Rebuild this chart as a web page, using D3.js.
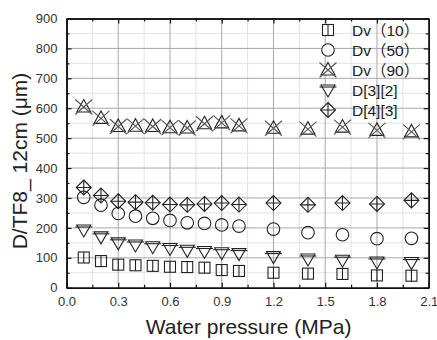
<!DOCTYPE html>
<html lang="en">
<head>
<meta charset="utf-8">
<title>water pressure</title>
<script src="https://cdn.jsdelivr.net/npm/d3@7"></script>
<style>
body { margin: 0; background: #fff; font-family: Arial, "Liberation Sans", "Noto Sans CJK SC", sans-serif; }
.tick-label { font-size: 13px; fill: #333; }
.axis-title { font-size: 21px; fill: #222; }
.legend-text { font-size: 15.5px; fill: #222; }
</style>
</head>
<body>
<div id="chart"></div>
<script>

// data
var pressure = [0.1, 0.2, 0.3, 0.4, 0.5, 0.6, 0.7, 0.8, 0.9, 1.0, 1.2, 1.4, 1.6, 1.8, 2.0];
var dv10 = [101, 89, 77, 75, 73, 70, 69, 67, 59, 56, 50, 47, 46, 41, 40];
var dv50 = [302, 276, 248, 239, 232, 225, 217, 215, 210, 206, 196, 184, 177, 164, 165];
var dv90 = [604, 566, 539, 540, 539, 535, 534, 548, 551, 541, 533, 530, 537, 526, 521];
var d32 = [193, 170, 150, 143, 137, 131, 125, 121, 117, 114, 104, 96, 92, 86, 84];
var d43 = [335, 308, 289, 286, 284, 278, 277, 280, 283, 278, 283, 277, 283, 280, 292];
var seriesNames = ["Dv\uff0810\uff09", "Dv\uff0850\uff09", "Dv\uff0890\uff09", "D[3][2]", "D[4][3]"];
var xTicks = [0.0, 0.3, 0.6, 0.9, 1.2, 1.5, 1.8, 2.1];
var yTicks = [0, 100, 200, 300, 400, 500, 600, 700, 800, 900];

var W = 437, H = 340;
var margin = {top: 18.5, right: 8.3, bottom: 52.3, left: 66.5},
    width = W - margin.left - margin.right,
    height = H - margin.top - margin.bottom;

var svg = d3.select("#chart").append("svg")
    .attr("width", W)
    .attr("height", H);

var g = svg.append("g")
    .attr("transform", "translate(" + margin.left + "," + margin.top + ")");

// scales
var x = d3.scaleLinear().domain([0, 2.1]).range([0, width]);
var y = d3.scaleLinear().domain([0, 900]).range([height, 0]);

var xMinor = d3.range(0.15, 2.1, 0.3);
var yMinor = d3.range(50, 900, 100);

// grid lines
g.selectAll(".gx-minor").data(xMinor).enter().append("line")
    .attr("x1", function(d) { return x(d); }).attr("x2", function(d) { return x(d); })
    .attr("y1", 0).attr("y2", height)
    .attr("stroke", "#e2e2e2").attr("stroke-width", 1);
g.selectAll(".gy-minor").data(yMinor).enter().append("line")
    .attr("y1", function(d) { return y(d); }).attr("y2", function(d) { return y(d); })
    .attr("x1", 0).attr("x2", width)
    .attr("stroke", "#e2e2e2").attr("stroke-width", 1);
g.selectAll(".gx").data(xTicks.slice(1, -1)).enter().append("line")
    .attr("x1", function(d) { return x(d); }).attr("x2", function(d) { return x(d); })
    .attr("y1", 0).attr("y2", height)
    .attr("stroke", "#a8a8a8").attr("stroke-width", 1);
g.selectAll(".gy").data(yTicks.slice(1, -1)).enter().append("line")
    .attr("y1", function(d) { return y(d); }).attr("y2", function(d) { return y(d); })
    .attr("x1", 0).attr("x2", width)
    .attr("stroke", "#a8a8a8").attr("stroke-width", 1);

// axes with inward ticks on all sides
function addAxis(axis, tr, cls) {
    var a = g.append("g").attr("transform", tr).call(axis);
    a.select(".domain").attr("stroke", "#111").attr("stroke-width", 1.5);
    a.selectAll(".tick line").attr("stroke", "#111").attr("stroke-width", 1.2);
    a.selectAll("text").attr("class", cls ? "tick-label" : null).style("display", cls ? null : "none");
    return a;
}
var fmt = d3.format(".1f");
addAxis(d3.axisBottom(x).tickValues(xTicks).tickFormat(fmt).tickSizeInner(-5).tickSizeOuter(0).tickPadding(9), "translate(0," + height + ")", true);
addAxis(d3.axisBottom(x).tickValues(xMinor).tickSizeInner(-3).tickSizeOuter(0).tickFormat(""), "translate(0," + height + ")", false);
addAxis(d3.axisTop(x).tickValues(xTicks).tickSizeInner(-5).tickSizeOuter(0).tickFormat(""), "translate(0,0)", false);
addAxis(d3.axisTop(x).tickValues(xMinor).tickSizeInner(-3).tickSizeOuter(0).tickFormat(""), "translate(0,0)", false);
addAxis(d3.axisLeft(y).tickValues(yTicks).tickFormat(d3.format("d")).tickSizeInner(-5).tickSizeOuter(0).tickPadding(9), "translate(0,0)", true);
addAxis(d3.axisLeft(y).tickValues(yMinor).tickSizeInner(-3).tickSizeOuter(0).tickFormat(""), "translate(0,0)", false);
addAxis(d3.axisRight(y).tickValues(yTicks).tickSizeInner(-5).tickSizeOuter(0).tickFormat(""), "translate(" + width + ",0)", false);
addAxis(d3.axisRight(y).tickValues(yMinor).tickSizeInner(-3).tickSizeOuter(0).tickFormat(""), "translate(" + width + ",0)", false);

// marker shapes, drawn around (0,0)
var markers = [
    function(m) { // square with a centre bar
        m.append("rect").attr("x", -5.5).attr("y", -5.5).attr("width", 11).attr("height", 11);
        m.append("line").attr("x1", 0).attr("x2", 0).attr("y1", -5.5).attr("y2", 5.5);
    },
    function(m) { // circle
        m.append("circle").attr("r", 6.3);
    },
    function(m) { // triangle with a cross
        m.append("path").attr("d", "M0,-7.5L7,5L-7,5Z");
        m.append("path").attr("d", "M-8.5,-7.5L8.5,7.5M8.5,-7.5L-8.5,7.5").attr("stroke", "#555");
    },
    function(m) { // down triangle with a bar
        m.append("path").attr("d", "M-7,-5L7,-5L0,7Z");
        m.append("line").attr("x1", -8.5).attr("x2", 8.5).attr("y1", -3).attr("y2", -3);
    },
    function(m) { // diamond with a plus
        m.append("path").attr("d", "M0,-7.5L7.5,0L0,7.5L-7.5,0Z");
        m.append("path").attr("d", "M0,-7.5V7.5M-7.5,0H7.5");
    }
];

var series = [dv10, dv50, dv90, d32, d43];

// points
series.forEach(function(vals, i) {
    var pts = g.selectAll(".pt" + i)
        .data(vals)
        .enter().append("g")
        .attr("transform", function(d, j) { return "translate(" + x(pressure[j]) + "," + y(d) + ")"; })
        .attr("fill", "none").attr("stroke", "#222").attr("stroke-width", 1.1);
    pts.each(function() { markers[i](d3.select(this)); });
});

// legend
var legend = svg.append("g");
seriesNames.forEach(function(name, i) {
    var row = legend.append("g").attr("transform", "translate(328," + (30 + i * 20) + ")");
    var sym = row.append("g").attr("fill", "#fff").attr("stroke", "#222").attr("stroke-width", 1.1);
    markers[i](sym);
    row.append("text").attr("class", "legend-text")
        .attr("x", 24).attr("dy", "0.36em").text(name);
});

// axis titles
svg.append("text").attr("class", "axis-title")
    .attr("x", margin.left + width / 2 + 1).attr("y", 334)
    .attr("text-anchor", "middle")
    .text("Water pressure (MPa)");

svg.append("text").attr("class", "axis-title")
    .attr("transform", "translate(27,161) rotate(-90)")
    .attr("text-anchor", "middle")
    .text("D/TF8_ 12cm (\u03bcm)");

</script>
</body>
</html>
